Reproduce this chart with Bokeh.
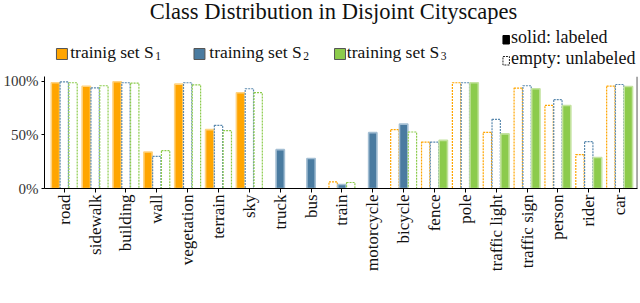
import math
from bokeh.plotting import figure
from bokeh.layouts import column
from bokeh.models import Range1d, FixedTicker, Span, ColumnDataSource
from bokeh.transform import dodge
from bokeh.core.properties import value
from bokeh.embed import file_html
from bokeh.resources import INLINE

# ---------------- data ----------------
classes = ["road", "sidewalk", "building", "wall", "vegetation", "terrain", "sky",
           "truck", "bus", "train", "motorcycle", "bicycle", "fence", "pole",
           "traffic light", "traffic sign", "person", "rider", "car"]
s1_vals = [98.8, 95.6, 99.7, 34.1, 97.5, 55.0, 89.5, 0, 0, 6.2, 0, 55.0,
           43.4, 98.8, 52.5, 93.8, 77.6, 31.7, 95.6]
s2_vals = [99.7, 94.1, 98.8, 30.1, 98.8, 59.0, 93.2, 36.3, 28.0, 3.8, 52.2, 60.2,
           43.4, 98.8, 64.6, 96.0, 83.0, 43.8, 97.2]
s3_vals = [98.8, 96.0, 98.4, 35.4, 96.9, 54.0, 89.5, 0, 0, 5.6, 0, 52.8,
           45.0, 98.8, 51.0, 93.2, 77.6, 28.9, 95.3]
# which training set holds the labels of each class
labeled_set = [1, 1, 1, 1, 1, 1, 1, 2, 2, 2, 2, 2, 3, 3, 3, 3, 3, 3, 3]
y_ticks = [0, 50, 100]
y_tick_labels = ["0%", "50%", "100%"]
title_text = "Class Distribution in Disjoint Cityscapes"
legend_names = ["trainig set S", "training set S", "training set S"]
legend_subs = ["1", "2", "3"]
kind_labels = ["solid: labeled", "empty: unlabeled"]

FONT = value("Liberation Serif")
fill_colors = ["#FFA500", "#4A7BA0", "#8CCB4C"]
edge_colors = ["#FFD27F", "#A3BED3", "#C4E3A0"]
dash_colors = ["#FFA500", "#5A89AE", "#8CCB4C"]
offsets = [-0.285, 0.0, 0.285]

x_index = list(range(len(classes)))

W = 640
HEAD_H = 70
MAIN_H = 233
TY = -7  # baseline correction for header texts
FRAME_L, FRAME_R = 42, 637

# ---------------- main chart ----------------
p = figure(width=W, height=MAIN_H, x_range=Range1d(-0.64, 18.58),
           y_range=Range1d(0, 104.66), toolbar_location=None,
           output_backend="svg", min_border_left=FRAME_L, min_border_right=W - FRAME_R,
           min_border_top=6, min_border_bottom=115, outline_line_color=None)
p.xgrid.visible = False
p.ygrid.visible = False

for k, vals in enumerate([s1_vals, s2_vals, s3_vals]):
    solid = dict(x=[], top=[])
    empty = dict(x=[], top=[])
    for i, v in enumerate(vals):
        if v <= 0:
            continue
        target = solid if labeled_set[i] == k + 1 else empty
        target["x"].append(x_index[i])
        target["top"].append(v)
    p.vbar(x=dodge("x", offsets[k], range=p.x_range), top="top", width=0.27,
           source=ColumnDataSource(empty), fill_color="white",
           line_color=dash_colors[k], line_dash="2 1", line_width=1.2)
    p.vbar(x=dodge("x", offsets[k], range=p.x_range), top="top", width=0.27,
           source=ColumnDataSource(solid), fill_color=fill_colors[k],
           line_color=edge_colors[k], line_width=1.6)

p.xaxis.ticker = FixedTicker(ticks=x_index)
p.xaxis.major_label_overrides = {i: c for i, c in zip(x_index, classes)}
p.xaxis.major_label_orientation = math.pi / 2
p.xaxis.major_label_text_font = "Liberation Serif"
p.xaxis.major_label_text_font_size = "17px"
p.xaxis.major_label_text_color = "#111111"
p.xaxis.major_tick_out = 4
p.xaxis.major_tick_in = 0
p.xaxis.minor_tick_line_color = None
p.xaxis.major_label_standoff = 2
p.xaxis.axis_line_color = "black"

p.yaxis.ticker = FixedTicker(ticks=y_ticks)
p.yaxis.major_label_overrides = {t: l for t, l in zip(y_ticks, y_tick_labels)}
p.yaxis.major_label_text_font = "Liberation Serif"
p.yaxis.major_label_text_font_size = "15px"
p.yaxis.major_label_text_color = "#333333"
p.yaxis.major_tick_out = 3
p.yaxis.major_tick_in = 0
p.yaxis.minor_tick_line_color = None
p.yaxis.major_label_standoff = 3
p.yaxis.axis_line_color = "black"

p.add_layout(Span(location=18.57, dimension="height", line_color="black", line_width=1))

# ---------------- header: title and legends ----------------
# the column aligns the header frame with the chart frame, so its x range is in page px
h = figure(width=W, height=HEAD_H, x_range=Range1d(FRAME_L, FRAME_R),
           y_range=Range1d(HEAD_H, 0),
           toolbar_location=None, output_backend="svg", min_border=0,
           outline_line_color=None, x_axis_location=None, y_axis_location=None)
h.xgrid.visible = False
h.ygrid.visible = False

h.text(x=[332], y=[18 + TY], text=[title_text], text_font=FONT, text_font_size="22.5px",
       text_align="center", text_baseline="alphabetic", text_color="#111111")

box_left = [54, 192, 333]
text_right = [151.7, 300, 438]
sub_left = [153, 301.5, 439.5]
h.quad(left=box_left, right=[b + 11 for b in box_left], top=[48] * 3, bottom=[59] * 3,
       fill_color=fill_colors, line_color="#555555", line_width=1)
h.text(x=text_right, y=[58.5 + TY] * 3, text=legend_names, text_font=FONT,
       text_font_size="17.5px", text_align="right", text_baseline="alphabetic",
       text_color="#111111")
h.text(x=sub_left, y=[62 + TY] * 3, text=legend_subs, text_font=FONT,
       text_font_size="11.5px", text_align="left", text_baseline="alphabetic",
       text_color="#111111")

h.quad(left=[502], right=[508.5], top=[35], bottom=[43.5], fill_color="black",
       line_color="black", line_width=1)
h.quad(left=[502], right=[508.5], top=[56], bottom=[64.5], fill_color="white",
       line_color="#222222", line_dash="2 1", line_width=1)
h.text(x=[510, 510], y=[43.5 + TY, 64.3 + TY], text=kind_labels, text_font=FONT,
       text_font_size="18px", text_align="left", text_baseline="alphabetic",
       text_color="#111111")

layout = column(h, p)
open("out.html", "w").write(file_html(layout, INLINE))
